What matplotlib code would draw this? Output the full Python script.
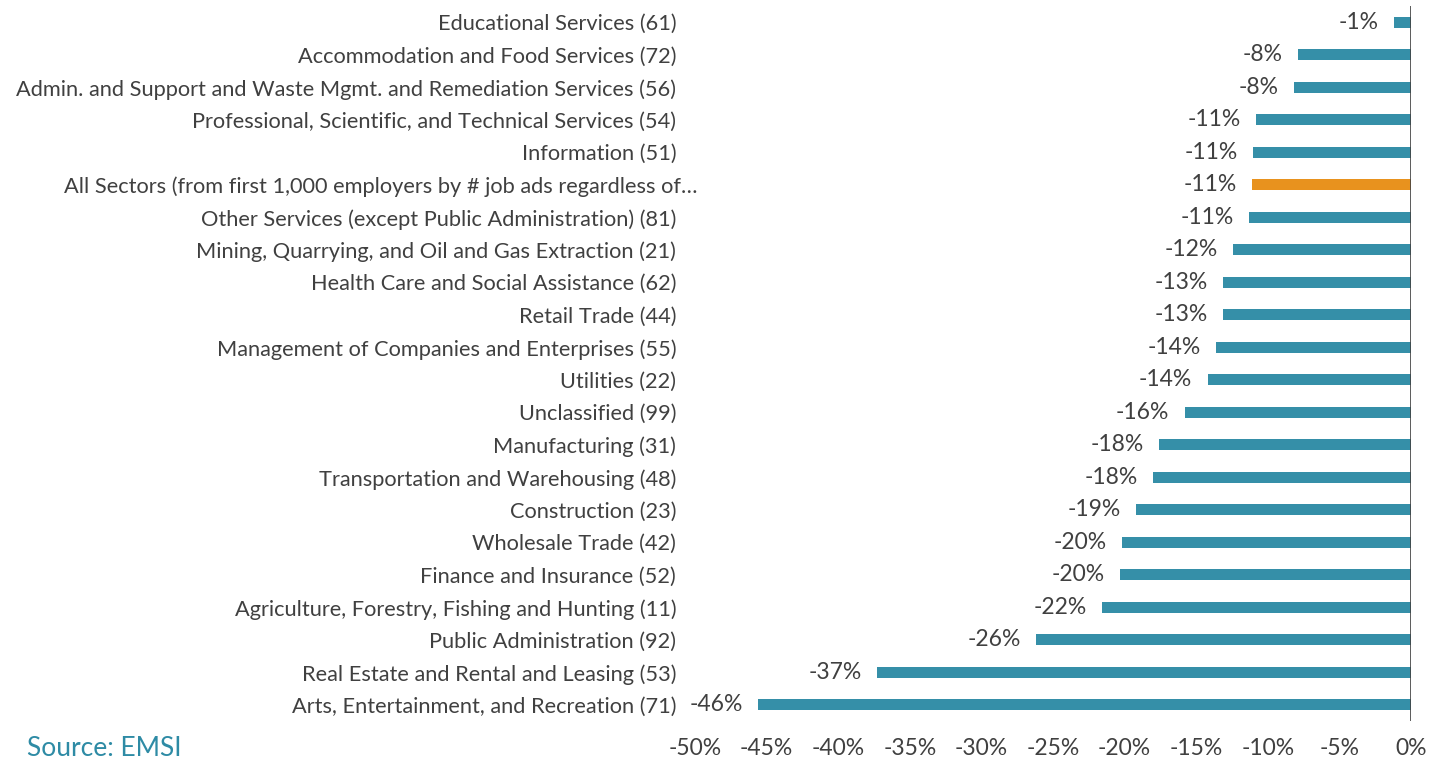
import matplotlib
matplotlib.use("Agg")
import matplotlib.pyplot as plt
from matplotlib.ticker import FuncFormatter
import matplotlib.transforms as mtransforms

categories = [
    "Educational Services (61)",
    "Accommodation and Food Services (72)",
    "Admin. and Support and Waste Mgmt. and Remediation Services (56)",
    "Professional, Scientific, and Technical Services (54)",
    "Information (51)",
    "All Sectors (from first 1,000 employers by # job ads regardless of…",
    "Other Services (except Public Administration) (81)",
    "Mining, Quarrying, and Oil and Gas Extraction (21)",
    "Health Care and Social Assistance (62)",
    "Retail Trade (44)",
    "Management of Companies and Enterprises (55)",
    "Utilities (22)",
    "Unclassified (99)",
    "Manufacturing (31)",
    "Transportation and Warehousing (48)",
    "Construction (23)",
    "Wholesale Trade (42)",
    "Finance and Insurance (52)",
    "Agriculture, Forestry, Fishing and Hunting (11)",
    "Public Administration (92)",
    "Real Estate and Rental and Leasing (53)",
    "Arts, Entertainment, and Recreation (71)",
]
values = [-1.2, -7.9, -8.2, -10.8, -11.0, -11.1, -11.3, -12.4, -13.1, -13.1,
          -13.6, -14.2, -15.8, -17.6, -18.0, -19.2, -20.2, -20.3, -21.6,
          -26.2, -37.3, -45.6]
highlight = "All Sectors (from first 1,000 employers by # job ads regardless of…"
x_ticks = [-50, -45, -40, -35, -30, -25, -20, -15, -10, -5, 0]

TEAL = "#358FA8"
ORANGE = "#E8921E"
TEXT = "#404040"

plt.rcParams['font.family'] = ['Lato', 'DejaVu Sans']

fig = plt.figure(figsize=(14.47, 7.6), dpi=100)
ax = fig.add_axes([0.4803, 0.0513, 0.9751 - 0.4803, 0.992 - 0.0513])

ypos = list(range(len(categories)))
colors = [ORANGE if c == highlight else TEAL for c in categories]
ax.barh(ypos, values, height=0.34, color=colors, zorder=2)

for y, v in zip(ypos, values):
    ax.annotate(f"{round(v):d}%", xy=(v, y), xytext=(-11, 0),
                textcoords="offset points", ha="right", va="center",
                fontsize=16.5, color=TEXT)

ax.set_xlim(-50, 0)
ax.set_ylim(len(categories) - 0.5, -0.5)
ax.set_xticks(x_ticks)
ax.xaxis.set_major_formatter(FuncFormatter(lambda v, p: f"{int(v)}%"))
ax.set_yticks(ypos)
ax.set_yticklabels(categories)
ax.tick_params(axis="both", length=0, labelcolor=TEXT)
ax.tick_params(axis="y", pad=13.5, labelsize=15.7)
ax.tick_params(axis="x", pad=12, labelsize=16.5)

for s in ax.spines.values():
    s.set_visible(False)
ax.axvline(0, color="#404040", lw=1.2, zorder=3)

# the long truncated label sits slightly further right in the original
for lab in ax.get_yticklabels():
    if lab.get_text() == highlight:
        lab.set_transform(lab.get_transform() + mtransforms.ScaledTranslation(21 / 100, 0, fig.dpi_scale_trans))

fig.text(27 / 1447, 1 - 748 / 760, "Source: EMSI", ha="left", va="center",
         fontsize=19, color="#2E8BA5")

fig.savefig("out.png", dpi=100)
